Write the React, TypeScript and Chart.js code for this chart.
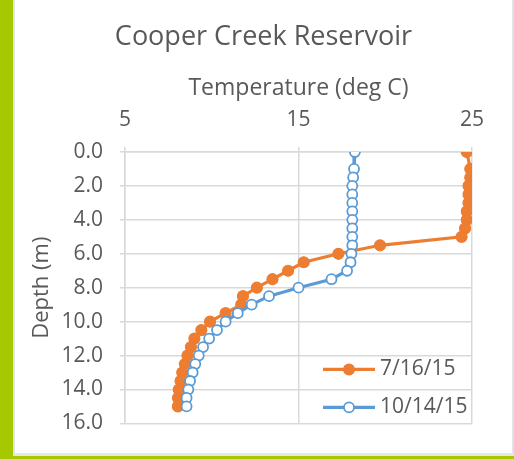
import React, { useEffect, useRef } from "react";
import { Chart, registerables } from "chart.js";

Chart.register(...registerables);

const chartTitle = "Cooper Creek Reservoir";
const xAxisTitle = "Temperature (deg C)";
const yAxisTitle = "Depth (m)";

const seriesNames = ["7/16/15", "10/14/15"];
const seriesColors = ["#ED7D31", "#5B9BD5"];

const depths = [0, 1, 1.5, 2, 2.5, 3, 3.5, 4, 4.5, 5, 5.5, 6, 6.5, 7, 7.5, 8, 8.5, 9, 9.5, 10, 10.5, 11, 11.5, 12, 12.5, 13, 13.5, 14, 14.5, 15];

const tempJul = [24.7, 24.9, 24.9, 24.8, 24.8, 24.8, 24.7, 24.7, 24.6, 24.4, 19.7, 17.3, 15.3, 14.4, 13.5, 12.6, 11.8, 11.7, 10.8, 9.9, 9.4, 9.0, 8.8, 8.6, 8.45, 8.3, 8.2, 8.1, 8.05, 8.05];

const tempOct = [18.25, 18.2, 18.15, 18.1, 18.1, 18.1, 18.1, 18.1, 18.1, 18.1, 18.1, 18.05, 18.0, 17.8, 16.9, 15.0, 13.3, 12.3, 11.5, 10.8, 10.3, 9.85, 9.5, 9.25, 9.05, 8.9, 8.75, 8.65, 8.55, 8.55];

const xMin = 5;
const xMax = 25;
const xStep = 10;
const yMin = 0;
const yMax = 16;
const yStep = 2;

const FONT = "'Open Sans', sans-serif";
const TEXT = "#595959";
const GRID = "#d9d9d9";

const legendPlugin = {
  id: "insideLegend",
  afterDraw(chart: any) {
    const ctx = chart.ctx;
    const a = chart.chartArea;
    const rows = [a.bottom - 54, a.bottom - 16];
    ctx.save();
    seriesNames.forEach((name, i) => {
      const y = rows[i];
      const x0 = a.right - 149;
      const x1 = a.right - 97;
      const mx = (x0 + x1) / 2;
      ctx.strokeStyle = seriesColors[i];
      ctx.lineWidth = 3.2;
      ctx.beginPath();
      ctx.moveTo(x0, y);
      ctx.lineTo(x1, y);
      ctx.stroke();
      ctx.beginPath();
      if (i === 0) {
        ctx.fillStyle = seriesColors[i];
        ctx.arc(mx, y, 6, 0, Math.PI * 2);
        ctx.fill();
      } else {
        ctx.fillStyle = "#ffffff";
        ctx.arc(mx, y, 5, 0, Math.PI * 2);
        ctx.fill();
        ctx.lineWidth = 1.8;
        ctx.stroke();
      }
      ctx.fillStyle = TEXT;
      ctx.font = `21px ${FONT}`;
      ctx.textAlign = "left";
      ctx.textBaseline = "middle";
      ctx.fillText(name, a.right - 92, y);
    });
    ctx.restore();
  },
};

export default function App() {
  const ref = useRef<HTMLCanvasElement | null>(null);

  useEffect(() => {
    if (!ref.current) return;
    const chart = new Chart(ref.current, {
      type: "scatter",
      data: {
        datasets: [
          {
            label: seriesNames[0],
            data: depths.map((d, i) => ({ x: tempJul[i], y: d })),
            showLine: true,
            borderColor: seriesColors[0],
            backgroundColor: seriesColors[0],
            borderWidth: 3.2,
            pointRadius: 5.5,
            pointBorderWidth: 1.2,
            pointBackgroundColor: seriesColors[0],
            pointBorderColor: seriesColors[0],
            order: 1,
          },
          {
            label: seriesNames[1],
            data: depths.map((d, i) => ({ x: tempOct[i], y: d })),
            showLine: true,
            borderColor: seriesColors[1],
            backgroundColor: "#ffffff",
            borderWidth: 3.2,
            pointRadius: 5,
            pointBorderWidth: 1.8,
            pointBackgroundColor: "#ffffff",
            pointBorderColor: seriesColors[1],
            order: 0,
          },
        ],
      },
      options: {
        responsive: false,
        animation: false,
        layout: { padding: { left: 0, right: 0, top: 0, bottom: 24 } },
        plugins: {
          legend: { display: false },
          tooltip: { enabled: false },
          title: {
            display: true,
            text: chartTitle,
            color: TEXT,
            font: { family: FONT, size: 27, weight: "normal" },
            padding: { top: 21, bottom: 0 },
          },
        },
        scales: {
          x: {
            type: "linear",
            position: "top",
            min: xMin,
            max: xMax,
            afterFit: (s: any) => {
              s.height = 98.6;
            },
            ticks: {
              stepSize: xStep,
              color: TEXT,
              padding: 14,
              font: { family: FONT, size: 21 },
            },
            grid: { color: GRID, lineWidth: 1.5, tickLength: 5, tickColor: GRID },
            border: { color: GRID, width: 1.5 },
            title: {
              display: true,
              text: xAxisTitle,
              color: TEXT,
              font: { family: FONT, size: 23 },
              padding: { top: 21, bottom: 0 },
            },
          },
          y: {
            type: "linear",
            reverse: true,
            min: yMin,
            max: yMax,
            afterFit: (s: any) => {
              s.width = 110;
            },
            ticks: {
              stepSize: yStep,
              color: TEXT,
              padding: 17,
              font: { family: FONT, size: 21 },
              callback: (v: any) => Number(v).toFixed(1),
            },
            grid: { color: GRID, lineWidth: 1.5, tickLength: 5, tickColor: GRID },
            border: { color: GRID, width: 1.5 },
            title: {
              display: true,
              text: yAxisTitle,
              color: TEXT,
              font: { family: FONT, size: 22 },
              padding: { top: 14, bottom: 0 },
            },
          },
          yRight: {
            type: "linear",
            position: "right",
            display: true,
            min: yMin,
            max: yMax,
            afterFit: (s: any) => {
              s.width = 40;
            },
            ticks: { display: false },
            grid: { display: false, drawTicks: false },
            border: { display: false },
            title: { display: false },
          },
        },
      },
      plugins: [legendPlugin],
    } as any);
    return () => chart.destroy();
  }, []);

  return (
    <div style={{ position: "absolute", left: 0, top: 0, width: 514, height: 459, background: "#ffffff", overflow: "hidden" }}>
      <div style={{ position: "absolute", left: 0, top: 0, width: 13, height: 459, background: "#a6c800" }} />
      <div style={{ position: "absolute", left: 13, top: 0, width: 2, height: 456, background: "#e2e2e2" }} />
      <div style={{ position: "absolute", left: 512, top: 0, width: 2, height: 457, background: "#e2e2e2" }} />
      <div style={{ position: "absolute", left: 13, top: 453, width: 501, height: 3, background: "#e6e6e6" }} />
      <div style={{ position: "absolute", left: 13, top: 456, width: 501, height: 3, background: "#a6c800" }} />
      <canvas ref={ref} width={497} height={453} style={{ position: "absolute", left: 15, top: 0, width: 497, height: 453 }} />
    </div>
  );
}
